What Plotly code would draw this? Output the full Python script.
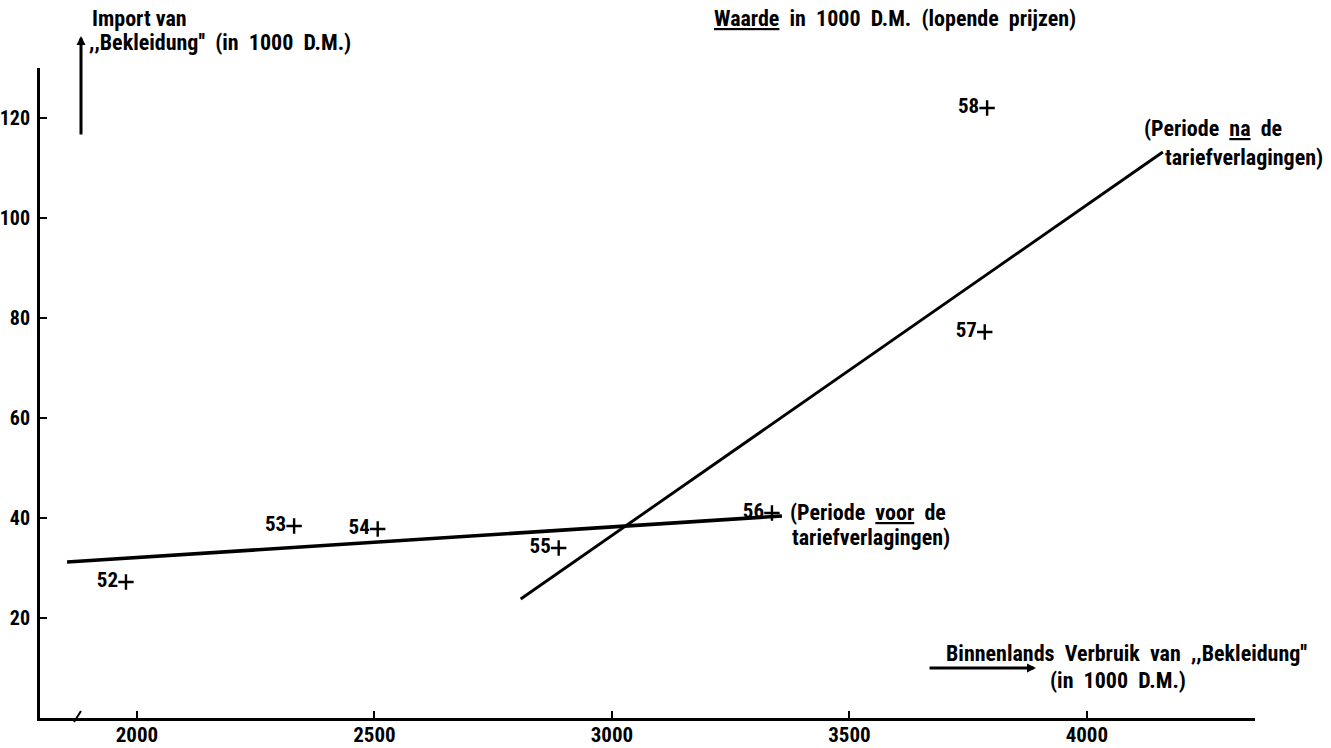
import plotly.graph_objects as go

# ---- data ----
years = ["52", "53", "54", "55", "56", "57", "58"]
verbruik = [1977, 2331, 2507, 2888, 3337, 3785, 3790]   # Binnenlands verbruik (1000 D.M.)
importv = [27.2, 38.4, 37.8, 34.0, 41.0, 77.2, 122.0]    # Import (1000 D.M.)

voor_x = [1853, 3358]   # Periode voor de tariefverlagingen (trend line)
voor_y = [31.2, 40.4]
na_x = [2808, 4160]     # Periode na de tariefverlagingen (trend line)
na_y = [23.8, 113.2]

x_ticks = [2000, 2500, 3000, 3500, 4000]
y_ticks = [20, 40, 60, 80, 100, 120]
x_range = [1796, 4354]
y_range = [0, 130]

FONT = "Roboto Condensed, DejaVu Sans Condensed, sans-serif"
W, H = 1331, 748
AX_L, AX_R, AX_T, AX_B = 40, 1255, 68, 718   # plot area on the page
L, T, R, B = AX_L, AX_T, W - AX_R, H - AX_B

def px(xs):
    return (xs - AX_L) / (AX_R - AX_L)

def py(ys):
    return (AX_B - ys) / (AX_B - AX_T)

fig = go.Figure()
fig.add_trace(go.Scatter(x=voor_x, y=voor_y, mode="lines",
                         line=dict(color="black", width=3.6), showlegend=False))
fig.add_trace(go.Scatter(x=na_x, y=na_y, mode="lines",
                         line=dict(color="black", width=2.9), showlegend=False))
fig.add_trace(go.Scatter(x=verbruik, y=importv, mode="markers+text",
                         text=years, textposition="middle left",
                         textfont=dict(family=FONT, size=21, color="black", weight="bold"),
                         marker=dict(symbol="cross-thin", size=11,
                                     line=dict(color="black", width=2.4)),
                         showlegend=False))

ann_font = dict(family=FONT, size=22, color="black", weight="bold")
annotations = [
    dict(text="Import van", x=px(90), y=py(18), xanchor="left", yanchor="middle"),
    dict(text=",,Bekleidung''  (in  1000  D.M.)", x=px(87), y=py(43), xanchor="left", yanchor="middle"),
    dict(text="<u>Waarde</u>  in  1000  D.M.  (lopende  prijzen)", x=px(712), y=py(18),
         xanchor="left", yanchor="middle"),
    dict(text="(Periode  <u>na</u>  de", x=px(1142), y=py(129), xanchor="left", yanchor="middle"),
    dict(text="tariefverlagingen)", x=px(1163), y=py(157), xanchor="left", yanchor="middle"),
    dict(text="(Periode  <u>voor</u>  de", x=px(788), y=py(512), xanchor="left", yanchor="middle"),
    dict(text="tariefverlagingen)", x=px(790), y=py(537), xanchor="left", yanchor="middle"),
    dict(text="Binnenlands  Verbruik  van  ,,Bekleidung''", x=px(944), y=py(653),
         xanchor="left", yanchor="middle"),
    dict(text="(in  1000  D.M.)", x=px(1048), y=py(680), xanchor="left", yanchor="middle"),
]
for a in annotations:
    a.update(xref="paper", yref="paper", showarrow=False, font=ann_font)

# arrows
annotations.append(dict(x=px(81), y=py(36), xref="paper", yref="paper", text="",
                        showarrow=True, ax=0, ay=100, arrowhead=2, arrowsize=0.6,
                        arrowwidth=3, arrowcolor="black"))
annotations.append(dict(x=px(1036), y=py(668), xref="paper", yref="paper", text="",
                        showarrow=True, ax=-108, ay=0, arrowhead=2, arrowsize=0.6,
                        arrowwidth=3, arrowcolor="black"))

fig.update_layout(
    template="none",
    width=W, height=H,
    margin=dict(l=L, r=R, t=T, b=B, pad=0),
    paper_bgcolor="white", plot_bgcolor="white",
    annotations=annotations,
    xaxis=dict(range=x_range, tickvals=x_ticks, ticks="inside", ticklen=7, tickwidth=2,
               tickcolor="black", showline=True, linecolor="black", linewidth=3,
               showgrid=False, zeroline=False, automargin=False, ticklabelstandoff=-4,
               tickfont=dict(family=FONT, size=21, color="black", weight="bold")),
    yaxis=dict(range=y_range, tickvals=y_ticks, ticks="inside", ticklen=7, tickwidth=2,
               tickcolor="black", showline=True, linecolor="black", linewidth=3,
               showgrid=False, zeroline=False, automargin=False, ticklabelstandoff=3,
               tickfont=dict(family=FONT, size=20, color="black", weight="bold")),
    shapes=[dict(type="line", xref="paper", yref="paper",
                 x0=px(74), y0=py(722), x1=px(81), y1=py(711),
                 line=dict(color="black", width=2))],
)

# the page is photographed at its top-left corner: drop the default body margin
fig.write_html("out.html", config={"displayModeBar": False},
               post_script="document.body.style.margin='0px';")
